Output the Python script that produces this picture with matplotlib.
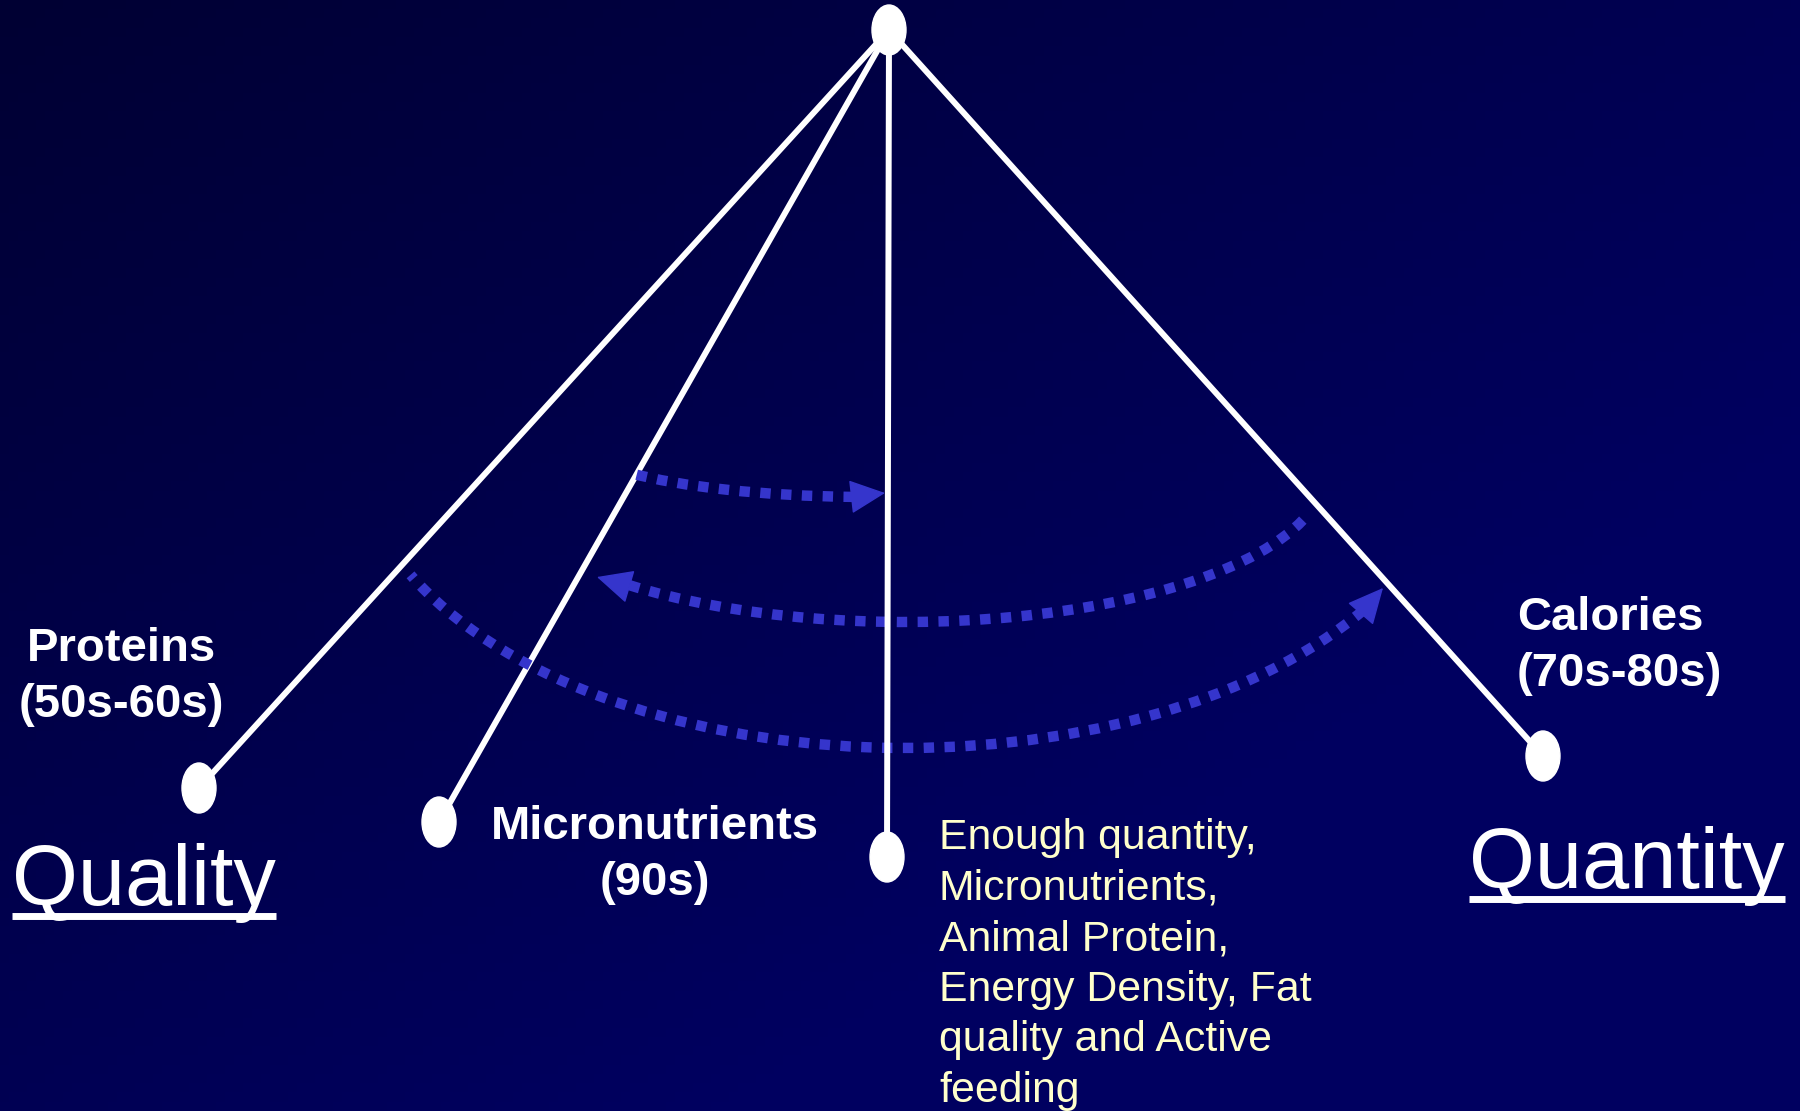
import numpy as np
import matplotlib
matplotlib.use('Agg')
import matplotlib.pyplot as plt
from matplotlib.patches import Ellipse, Arc, FancyArrowPatch
from matplotlib.colors import LinearSegmentedColormap

plt.rcParams['font.family'] = ['Liberation Sans', 'DejaVu Sans']

W, H = 1800, 1111

# diagram geometry, in picture pixels (y grows downwards)
hub_x, hub_y = 889, 30
node_x = [199, 439, 887, 1543]
node_y = [788, 822, 857, 756]

label_text = ['Proteins\n(50s-60s)', 'Micronutrients\n(90s)', 'Calories\n(70s-80s)']
label_x = [121, 655, 1517]
label_y = [717, 895, 686]   # baseline of the last line
label_ha = ['center', 'center', 'left']

detail_text = ('Enough quantity,\nMicronutrients,\nAnimal Protein,\n'
               'Energy Density, Fat\nquality and Active\nfeeding')
detail_x, detail_y = 939, 1102

axis_text = ['Quality', 'Quantity']
axis_x = [12, 1469]
axis_y = [905, 888]

# dotted transition arrows: ellipse arcs + arrow heads
arc_cx = [870, 905, 905]
arc_cy = [437, 472, 440]
arc_w = [600, 840, 1100]
arc_h = [120, 300, 616]
arc_tail = [(633, 472), (1302, 520), (410, 575)]
head_base = [(854, 496.5), (626, 585.5), (1363.5, 610.5)]
head_tip = [(885, 493), (597, 577), (1383, 588)]

bg_cmap = LinearSegmentedColormap.from_list('bg', ['#000033', '#000060'])
arrow_color = '#3535CC'

fig = plt.figure(figsize=(18, 11.11), dpi=100)
ax = fig.add_axes([0, 0, 1, 1])
ax.set_xlim(0, W)
ax.set_ylim(H, 0)
ax.axis('off')

# background gradient (dark top-left -> lighter navy)
gx, gy = np.meshgrid(np.linspace(0, 1, 200), np.linspace(0, 1, 120))
grad = np.clip((gx + gy) / 1.4, 0, 1)
ax.imshow(grad, cmap=bg_cmap, extent=[0, W, H, 0], aspect='auto', zorder=0)

# spokes
for i, (x, y) in enumerate(zip(node_x, node_y)):
    z = 4 if i == 2 else 2
    ax.plot([hub_x, x], [hub_y, y], color='white', lw=4.3, zorder=z,
            solid_capstyle='butt')

# nodes
ax.add_patch(Ellipse((hub_x, hub_y), 34, 50, color='white', zorder=5))
for x, y in zip(node_x, node_y):
    ax.add_patch(Ellipse((x, y), 34, 50, color='white', zorder=5))

# dotted arcs
for i in range(3):
    cx, cy = arc_cx[i], arc_cy[i]
    a1 = np.degrees(np.arctan2(arc_tail[i][1] - cy, arc_tail[i][0] - cx))
    a2 = np.degrees(np.arctan2(head_base[i][1] - cy, head_base[i][0] - cx))
    ax.add_patch(Arc((cx, cy), arc_w[i], arc_h[i], theta1=min(a1, a2), theta2=max(a1, a2),
                     edgecolor=arrow_color, lw=7.5, linestyle=(0, (1, 1.0)), zorder=3))
    ax.add_patch(FancyArrowPatch(head_base[i], head_tip[i],
                                 arrowstyle='-|>,head_length=23,head_width=11',
                                 mutation_scale=1, color=arrow_color, lw=1,
                                 shrinkA=0, shrinkB=0, zorder=3))

# labels
for t, x, y, ha in zip(label_text, label_x, label_y, label_ha):
    ax.text(x, y, t, color='white', fontsize=34, fontweight='bold', ha=ha,
            va='baseline', multialignment=ha, linespacing=1.36, zorder=6)

ax.text(detail_x, detail_y, detail_text, color='#FFFFCC', fontsize=30.8,
        ha='left', va='baseline', linespacing=1.34, zorder=6)

axis_labels = []
for t, x, y in zip(axis_text, axis_x, axis_y):
    axis_labels.append(ax.text(x, y, t, color='white', fontsize=61, ha='left',
                               va='baseline', zorder=6))

# underline the two axis words
fig.canvas.draw()
inv = ax.transData.inverted()
for txt, y in zip(axis_labels, axis_y):
    bb = txt.get_window_extent()
    (x0, _), (x1, _) = inv.transform([[bb.x0, bb.y0], [bb.x1, bb.y1]])
    ax.plot([x0, x1], [y + 11, y + 11], color='white', lw=5, zorder=6,
            solid_capstyle='butt')

fig.savefig('out.png', dpi=100)
